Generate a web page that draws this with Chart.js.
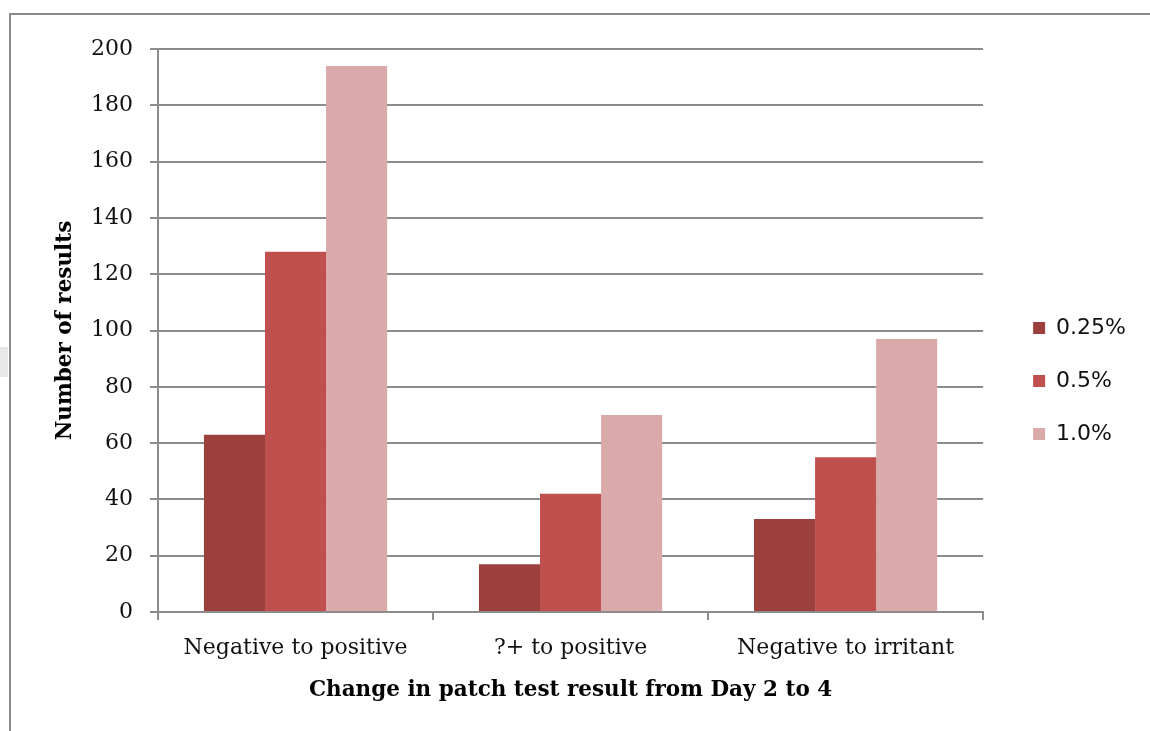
<!DOCTYPE html>
<html>
<head>
<meta charset="utf-8">
<script src="https://cdn.jsdelivr.net/npm/chart.js@4.4.1/dist/chart.umd.min.js"></script>
<style>
  html, body { margin: 0; padding: 0; background: #ffffff; }
  #page { position: relative; width: 1150px; height: 731px; overflow: hidden; }
  #frame {
    position: absolute; left: 9px; top: 13px; right: -4px; bottom: -4px;
    border-top: 2px solid #8a8a8a; border-left: 2px solid #8a8a8a;
  }
  #tab { position: absolute; left: 0; top: 347px; width: 8px; height: 30px; background: #e8e8e8; }
  #wrap { position: absolute; left: 0; top: 0; width: 1150px; height: 731px; }
</style>
</head>
<body>
<div id="page">
  <div id="frame"></div>
  <div id="tab"></div>
  <div id="wrap"><canvas id="chart" width="1150" height="731"></canvas></div>
</div>
<script>
// Categories along the x axis
const categories = ['Negative to positive', '?+ to positive', 'Negative to irritant'];

// Number of results per concentration
const conc025 = [63, 17, 33];
const conc05 = [128, 42, 55];
const conc10 = [194, 70, 97];

const seriesLabels = ['0.25%', '0.5%', '1.0%'];
const seriesColors = ['#9c403d', '#c0504d', '#daaaaa'];

// y axis ticks
const yTicks = [0, 20, 40, 60, 80, 100, 120, 140, 160, 180, 200];

const serif = "'DejaVu Serif', 'Liberation Serif', serif";
const gridGray = '#8c8c8c';

// Moves the legend block to its spot right of the plot
const legendShift = {
  id: 'legendShift',
  afterLayout(chart) {
    const lg = chart.legend;
    if (!lg) return;
    const dx = 19, dy = -9;
    lg.left += dx; lg.right += dx;
    lg.top += dy; lg.bottom += dy;
  }
};

new Chart(document.getElementById('chart'), {
  type: 'bar',
  data: {
    labels: categories,
    datasets: [
      { label: seriesLabels[0], data: conc025, backgroundColor: seriesColors[0] },
      { label: seriesLabels[1], data: conc05, backgroundColor: seriesColors[1] },
      { label: seriesLabels[2], data: conc10, backgroundColor: seriesColors[2] }
    ]
  },
  options: {
    responsive: false,
    animation: false,
    events: [],
    datasets: { bar: { categoryPercentage: 0.666, barPercentage: 1.0, borderWidth: 0 } },
    layout: { padding: { left: 0, top: 49, right: 33, bottom: 0 } },
    plugins: {
      tooltip: { enabled: false },
      legend: {
        position: 'right',
        labels: {
          boxWidth: 12, boxHeight: 12, padding: 31,
          color: '#111111',
          font: { family: "'DejaVu Sans', sans-serif", size: 22 }
        }
      }
    },
    scales: {
      x: {
        offset: true,
        grid: { display: true, drawOnChartArea: false, offset: true, tickLength: 8, color: gridGray, lineWidth: 2 },
        border: { color: gridGray, width: 2 },
        ticks: { color: '#111111', padding: 15, maxRotation: 0, font: { family: serif, size: 22 } },
        title: {
          display: true, text: 'Change in patch test result from Day 2 to 4',
          color: '#000000', padding: { top: 0, bottom: 28 },
          font: { family: serif, size: 21.5, weight: 'bold' }
        },
        afterFit(scale) { scale.height = 119; }
      },
      y: {
        min: 0, max: 200,
        afterBuildTicks(scale) { scale.ticks = yTicks.map(v => ({ value: v })); },
        grid: { color: gridGray, lineWidth: 2, tickLength: 8 },
        border: { color: gridGray, width: 2 },
        ticks: { color: '#111111', padding: 17, font: { family: serif, size: 22 } },
        title: {
          display: true, text: 'Number of results',
          color: '#000000', padding: { top: 53, bottom: 0 },
          font: { family: serif, size: 21.5, weight: 'bold' }
        },
        afterFit(scale) { scale.width = 158; }
      }
    }
  },
  plugins: [legendShift]
});
</script>
</body>
</html>
